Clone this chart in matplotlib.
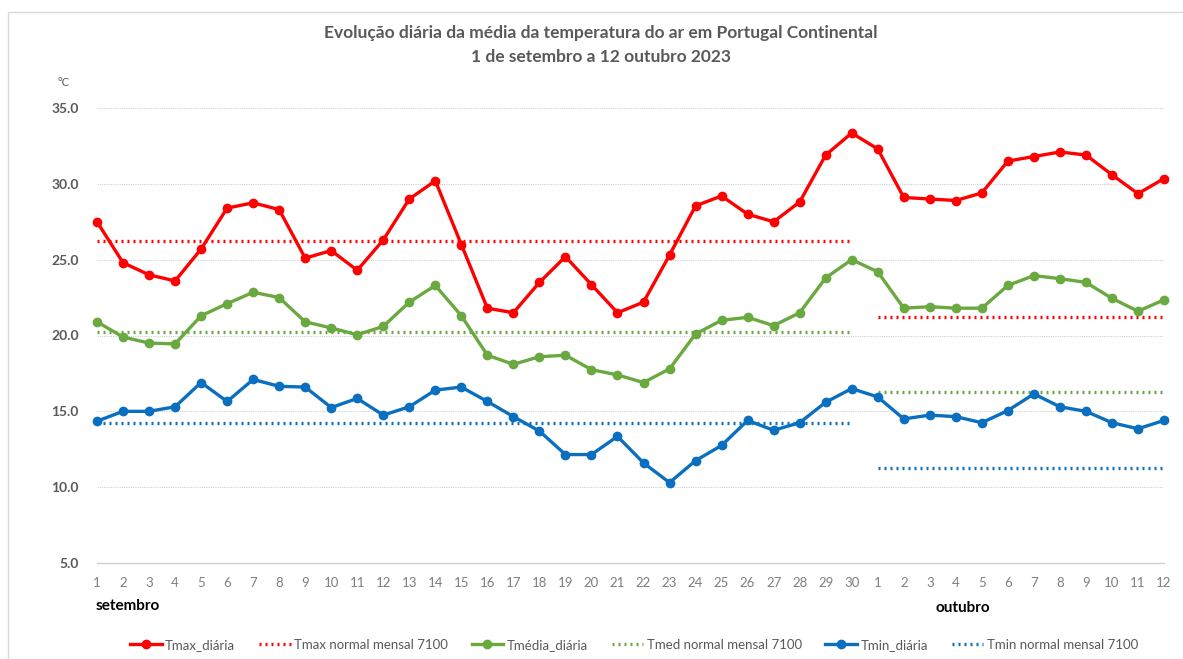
import numpy as np
import matplotlib.pyplot as plt
from matplotlib.patches import Rectangle

# ==============================================================================
# Data
#
sep_days = list(range(1, 31))
oct_days = list(range(1, 13))
tick_labels = [str(d) for d in sep_days + oct_days]

tmax = [27.5, 24.8, 24.0, 23.6, 25.7, 28.4, 28.75, 28.3, 25.1, 25.6,
        24.3, 26.3, 29.0, 30.2, 26.0, 21.8, 21.5, 23.5, 25.2, 23.35,
        21.5, 22.2, 25.3, 28.55, 29.2, 28.0, 27.5, 28.8, 31.9, 33.35,
        32.3, 29.1, 29.0, 28.9, 29.4, 31.5, 31.8, 32.1, 31.9, 30.6,
        29.35, 30.35]
tmed = [20.9, 19.9, 19.5, 19.45, 21.3, 22.1, 22.85, 22.5, 20.9, 20.5,
        20.05, 20.6, 22.2, 23.3, 21.3, 18.7, 18.1, 18.6, 18.7, 17.75,
        17.4, 16.9, 17.8, 20.1, 21.0, 21.2, 20.65, 21.5, 23.8, 25.0,
        24.2, 21.8, 21.9, 21.8, 21.8, 23.3, 23.95, 23.75, 23.5, 22.45,
        21.6, 22.35]
tmin = [14.35, 15.0, 15.0, 15.3, 16.9, 15.65, 17.1, 16.65, 16.6, 15.25,
        15.85, 14.75, 15.3, 16.4, 16.6, 15.65, 14.65, 13.7, 12.15, 12.15,
        13.35, 11.6, 10.3, 11.75, 12.75, 14.4, 13.75, 14.25, 15.6, 16.5,
        15.95, 14.5, 14.75, 14.65, 14.25, 15.05, 16.15, 15.3, 15.0, 14.25,
        13.85, 14.4]

# monthly normals 1971-2000 (september, october)
tmax_normal = [26.25, 21.25]
tmed_normal = [20.2, 16.25]
tmin_normal = [14.2, 11.25]

# ==============================================================================
# Style
#
RED = '#ff0000'
GREEN = '#6aa840'
BLUE = '#0a6fbf'
GRID_COLOR = '#d0d0d0'
LABEL_COLOR = '#595959'
TICK_COLOR = '#7f7f7f'
FONT = ['Lato', 'DejaVu Sans']

plt.rcParams['font.family'] = FONT

fig = plt.figure(figsize=(11.83, 6.59), dpi=100)
ax = fig.add_axes([97/1183, 96/659, (1164-97)/1183, (563-108)/659])

# light frame around the chart area
fig.patches.append(Rectangle((8/1183, -0.05), 1.2, 1.05 - 12/659,
                             transform=fig.transFigure, fill=False,
                             edgecolor='#d9d9d9', linewidth=1.0))

x = np.arange(1, len(tmax) + 1)
n_sep = len(sep_days)
x_sep = [x[0], x[n_sep - 1]]
x_oct = [x[n_sep], x[-1]]

line_kw = dict(linewidth=2.4, marker='o', markersize=6, clip_on=False, zorder=4)
dot_kw = dict(linewidth=2.4, linestyle=(0, (0.6, 1.2)), zorder=3)

ax.plot(x, tmax, color=RED, label='Tmax_diária', **line_kw)
ax.plot(x_sep, [tmax_normal[0]]*2, color=RED, label='Tmax normal mensal 7100', **dot_kw)
ax.plot(x_oct, [tmax_normal[1]]*2, color=RED, **dot_kw)
ax.plot(x, tmed, color=GREEN, label='Tmédia_diária', **line_kw)
ax.plot(x_sep, [tmed_normal[0]]*2, color=GREEN, label='Tmed normal mensal 7100', **dot_kw)
ax.plot(x_oct, [tmed_normal[1]]*2, color=GREEN, **dot_kw)
ax.plot(x, tmin, color=BLUE, label='Tmin_diária', **line_kw)
ax.plot(x_sep, [tmin_normal[0]]*2, color=BLUE, label='Tmin normal mensal 7100', **dot_kw)
ax.plot(x_oct, [tmin_normal[1]]*2, color=BLUE, **dot_kw)

ax.set_xlim(x[0], x[-1])
ax.set_ylim(5, 35)
ax.set_yticks(np.arange(5, 36, 5))
ax.set_yticklabels(['%.1f' % v for v in np.arange(5, 36, 5)],
                   color=LABEL_COLOR, fontsize=10, fontweight='bold')
ax.set_xticks(x)
ax.set_xticklabels(tick_labels, color=TICK_COLOR, fontsize=9.5)
ax.tick_params(axis='both', length=0)
ax.tick_params(axis='y', pad=13)
ax.tick_params(axis='x', pad=10)

ax.grid(axis='y', color=GRID_COLOR, linestyle=(0, (1, 1)), linewidth=0.8)
for side in ['top', 'right', 'left']:
    ax.spines[side].set_visible(False)
ax.spines['bottom'].set_color('#d0d0d0')
ax.spines['bottom'].set_linewidth(1.0)

# titles and labels
fig.text(601/1183, 1 - 33/659, 'Evolução diária da média da temperatura do ar em Portugal Continental',
         ha='center', va='center', fontsize=12.5, fontweight='bold', color=LABEL_COLOR)
fig.text(601/1183, 1 - 57/659, '1 de setembro a 12 outubro 2023',
         ha='center', va='center', fontsize=12.5, fontweight='bold', color=LABEL_COLOR)
fig.text(57/1183, 1 - 83/659, '°C', ha='left', va='center', fontsize=8, color=LABEL_COLOR)
fig.text(96/1183, 1 - 606/659, 'setembro', ha='left', va='center',
         fontsize=11, fontweight='bold', color='black')
fig.text(936/1183, 1 - 608/659, 'outubro', ha='left', va='center',
         fontsize=11, fontweight='bold', color='black')

fig.legend(loc='center', bbox_to_anchor=(634/1183, 14/659), ncol=6, frameon=False,
           fontsize=9.5, handlelength=2.4, handletextpad=0.25, columnspacing=1.8,
           labelcolor=LABEL_COLOR)

fig.savefig('out.png', dpi=100)
